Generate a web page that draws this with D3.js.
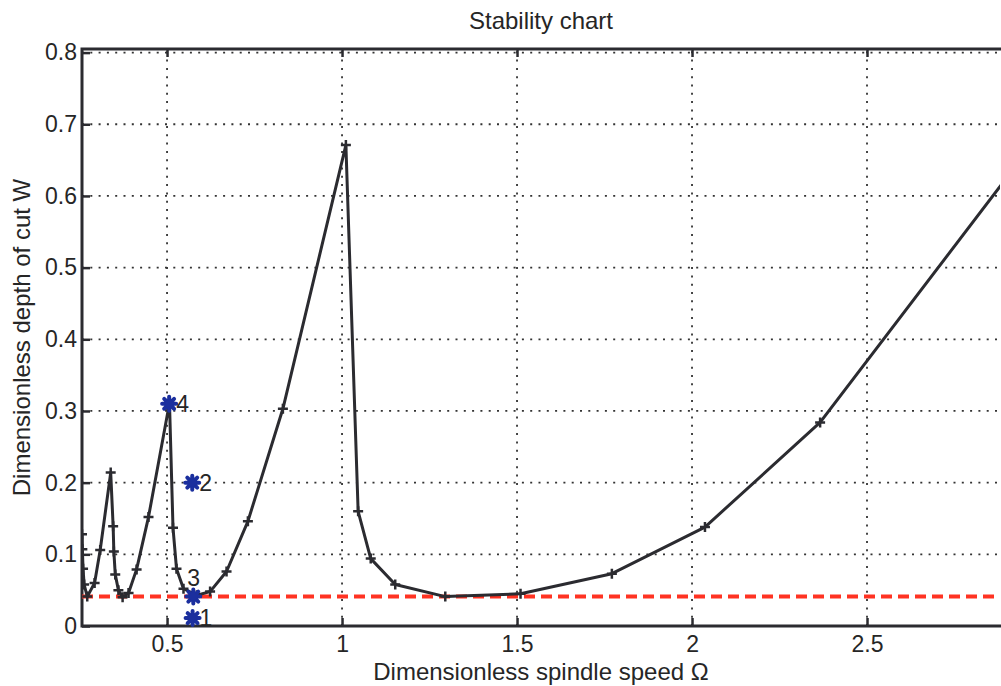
<!DOCTYPE html>
<html lang="en">
<head>
<meta charset="UTF-8">
<title>Stability chart</title>
<script src="https://d3js.org/d3.v7.min.js"></script>
<style>
    body { margin: 0; background: #fff; }
    svg { display: block; font-family: "Liberation Sans", Arial, sans-serif; }
</style>
</head>
<body>
<div id="chart"></div>
<script>
    // stability lobe curve (Omega, W)
    const omega = [0.257, 0.258, 0.260, 0.263, 0.272, 0.293, 0.309, 0.339, 0.346, 0.348, 0.352, 0.361, 0.373, 0.390, 0.413, 0.447,
                   0.507, 0.517, 0.527, 0.547, 0.585, 0.623, 0.670, 0.731, 0.831, 1.011, 1.046, 1.082, 1.152, 1.295, 1.510,
                   1.771, 2.037, 2.366, 3.000];
    const depth = [0.128, 0.107, 0.080, 0.058, 0.041, 0.060, 0.106, 0.214, 0.139, 0.104, 0.072, 0.050, 0.040, 0.046, 0.079, 0.152,
                   0.311, 0.137, 0.080, 0.052, 0.043, 0.048, 0.076, 0.146, 0.303, 0.671, 0.160, 0.094, 0.058, 0.041, 0.045,
                   0.073, 0.138, 0.284, 0.690];

    // test points
    const ptOmega = [0.573, 0.572, 0.575, 0.506];
    const ptDepth = [0.011, 0.200, 0.041, 0.310];
    const ptLabel = ["1", "2", "3", "4"];

    // red dashed limit
    const limitW = 0.041;

    const xTicks = [0.5, 1, 1.5, 2, 2.5];
    const xTickLabels = ["0.5", "1", "1.5", "2", "2.5"];
    const yTicks = [0, 0.1, 0.2, 0.3, 0.4, 0.5, 0.6, 0.7, 0.8];
    const yTickLabels = ["0", "0.1", "0.2", "0.3", "0.4", "0.5", "0.6", "0.7", "0.8"];

    const width = 1001, height = 686;
    const mLeft = 82, mRight = 1000, mTop = 49, mBottom = 626;
    const ink = "#2b2b30";

    const svg = d3.select("#chart").append("svg")
        .attr("width", width)
        .attr("height", height);

    const x = d3.scaleLinear().domain([0.257, 2.88]).range([mLeft, mRight]);
    const y = d3.scaleLinear().domain([0, 0.805]).range([mBottom, mTop]);

    svg.append("clipPath").attr("id", "plot-clip")
        .append("rect")
        .attr("x", mLeft).attr("y", mTop)
        .attr("width", mRight - mLeft).attr("height", mBottom - mTop);

    // dotted grid
    const grid = svg.append("g").attr("stroke", "#333").attr("stroke-width", 1.8)
        .attr("stroke-dasharray", "2,6.3");
    grid.selectAll(".gx").data(xTicks).enter().append("line")
        .attr("x1", d => x(d)).attr("x2", d => x(d))
        .attr("y1", mBottom).attr("y2", mTop);
    grid.selectAll(".gy").data(yTicks).enter().append("line")
        .attr("x1", mLeft).attr("x2", mRight)
        .attr("y1", d => y(d)).attr("y2", d => y(d));

    // axes (MATLAB style ticks pointing inward)
    const xAxis = d3.axisBottom(x).tickValues(xTicks)
        .tickFormat((d, i) => xTickLabels[i]).tickSize(-8).tickPadding(10);
    const xAxisTop = d3.axisTop(x).tickValues(xTicks).tickFormat("").tickSize(-8);
    const yAxis = d3.axisLeft(y).tickValues(yTicks)
        .tickFormat((d, i) => yTickLabels[i]).tickSize(-8).tickPadding(5);

    function styleAxis(g) {
        g.select(".domain").remove();
        g.selectAll(".tick line").attr("stroke", ink).attr("stroke-width", 2.5);
        g.selectAll(".tick text").attr("fill", "#262626").style("font-size", "23px");
    }

    svg.append("g").attr("transform", `translate(0,${mBottom})`).call(xAxis).call(styleAxis);
    svg.append("g").attr("transform", `translate(0,${mTop})`).call(xAxisTop).call(styleAxis);
    svg.append("g").attr("transform", `translate(${mLeft},0)`).call(yAxis).call(styleAxis);

    // frame (left, bottom, top)
    svg.append("path")
        .attr("d", `M${mRight + 5},${mTop}H${mLeft}V${mBottom}H${mRight + 5}`)
        .attr("fill", "none").attr("stroke", ink).attr("stroke-width", 3);

    const plot = svg.append("g").attr("clip-path", "url(#plot-clip)");

    // limit line
    plot.append("line")
        .attr("x1", mLeft).attr("x2", mRight)
        .attr("y1", y(limitW)).attr("y2", y(limitW))
        .attr("stroke", "#ff3322").attr("stroke-width", 4)
        .attr("stroke-dasharray", "11,6");

    // curve
    const pts = omega.map((d, i) => [d, depth[i]]);
    plot.append("path").datum(pts)
        .attr("d", d3.line().x(d => x(d[0])).y(d => y(d[1])))
        .attr("fill", "none").attr("stroke", ink).attr("stroke-width", 3)
        .attr("stroke-linejoin", "round");

    plot.selectAll(".plus").data(pts).enter().append("path")
        .attr("d", d => `M${x(d[0]) - 5},${y(d[1])}h10M${x(d[0])},${y(d[1]) - 5}v10`)
        .attr("stroke", ink).attr("stroke-width", 2.5);

    // blue asterisk points
    const star = d3.range(8).map(k => {
        const a = k * Math.PI / 4;
        return `M0,0L${(7 * Math.cos(a)).toFixed(2)},${(7 * Math.sin(a)).toFixed(2)}`;
    }).join("");
    const labelOffset = [[7, 0], [7, 0], [-6, -19], [7, 0]];

    const marks = svg.append("g").selectAll("g").data(ptOmega).enter().append("g")
        .attr("transform", (d, i) => `translate(${x(d)},${y(ptDepth[i])})`);
    marks.append("path").attr("d", star)
        .attr("stroke", "#1b2f9e").attr("stroke-width", 4).attr("stroke-linecap", "round");
    marks.append("circle").attr("r", 4).attr("fill", "#1b2f9e");
    marks.append("text")
        .attr("x", (d, i) => labelOffset[i][0])
        .attr("y", (d, i) => labelOffset[i][1])
        .attr("dy", "0.36em")
        .attr("fill", "#262626")
        .style("font-size", "23px")
        .text((d, i) => ptLabel[i]);

    // titles
    svg.append("text")
        .attr("x", (mLeft + mRight) / 2).attr("y", 29)
        .attr("text-anchor", "middle").attr("fill", "#262626")
        .style("font-size", "24px")
        .text("Stability chart");

    svg.append("text")
        .attr("x", (mLeft + mRight) / 2).attr("y", 680)
        .attr("text-anchor", "middle").attr("fill", "#262626")
        .style("font-size", "24px")
        .text("Dimensionless spindle speed \u03A9");

    svg.append("text")
        .attr("transform", `translate(30,${(mTop + mBottom) / 2}) rotate(-90)`)
        .attr("text-anchor", "middle").attr("fill", "#262626")
        .style("font-size", "24px")
        .text("Dimensionless depth of cut W");
</script>
</body>
</html>
